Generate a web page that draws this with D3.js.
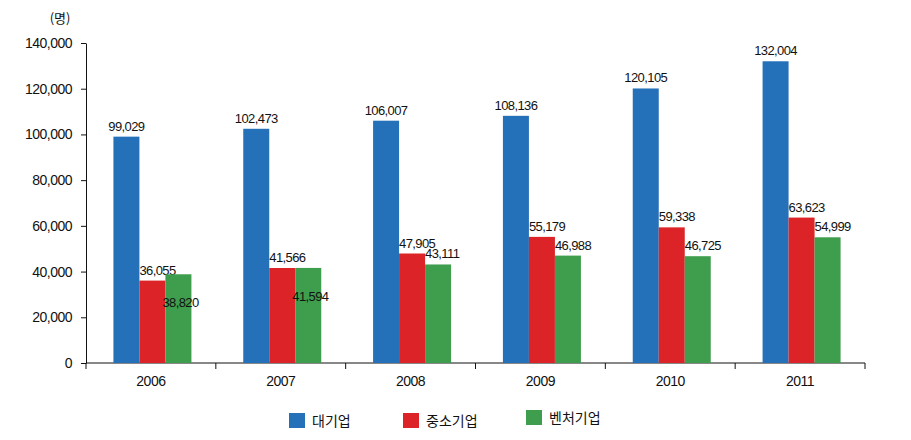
<!DOCTYPE html>
<html>
<head>
<meta charset="utf-8">
<script src="https://cdn.jsdelivr.net/npm/d3@7"></script>
<style>
  body { margin: 0; background: #fff; }
  text { font-family: "Liberation Sans", Arial, sans-serif; fill: #111; }
  .kr { font-family: "Noto Sans CJK KR", sans-serif; }
</style>
</head>
<body>
<svg width="911" height="440"></svg>
<script>
const years = ["2006", "2007", "2008", "2009", "2010", "2011"];
const seriesNames = ["대기업", "중소기업", "벤처기업"];
const large = [99029, 102473, 106007, 108136, 120105, 132004];
const small = [36055, 41566, 47905, 55179, 59338, 63623];
const venture = [38820, 41594, 43111, 46988, 46725, 54999];
const yTicks = [0, 20000, 40000, 60000, 80000, 100000, 120000, 140000];
const colors = ["#2470b9", "#dc2328", "#3f9e4d"];

const values = [large, small, venture];
const fmt = d3.format(",");

const svg = d3.select("svg");
const plotLeft = 86, plotRight = 865, plotTop = 43, plotBottom = 363;

const x = d3.scaleBand().domain(years).range([plotLeft, plotRight]);
const y = d3.scaleLinear().domain([0, 140000]).range([plotBottom, plotTop]);
const barW = 26;

// y axis
const yAxis = svg.append("g")
  .attr("transform", "translate(" + plotLeft + ",0)")
  .call(d3.axisLeft(y).tickValues(yTicks).tickFormat(fmt).tickSize(5).tickSizeOuter(0));
yAxis.select(".domain").attr("stroke", "#111");
yAxis.selectAll("line").attr("stroke", "#111");
yAxis.selectAll("text")
  .attr("x", -14)
  .style("font-size", "14px")
  .style("letter-spacing", "-0.5px");

// x axis: ticks on band boundaries
const xAxis = svg.append("g").attr("transform", "translate(0," + plotBottom + ")");
xAxis.append("line")
  .attr("x1", plotLeft).attr("x2", plotRight)
  .attr("stroke", "#111");
const edges = years.map((d) => x(d)).concat([plotRight]);
xAxis.selectAll(".tk").data(edges).join("line")
  .attr("x1", (d) => d).attr("x2", (d) => d)
  .attr("y1", 0).attr("y2", 6)
  .attr("stroke", "#111");
xAxis.selectAll(".yr").data(years).join("text")
  .attr("x", (d) => x(d) + x.bandwidth() / 2)
  .attr("y", 23)
  .attr("text-anchor", "middle")
  .style("font-size", "14px")
  .style("letter-spacing", "-0.5px")
  .text((d) => d);

// bars
const bars = svg.append("g");
values.forEach((vals, s) => {
  const bx = (i) => x(years[i]) + x.bandwidth() / 2 + 1.5 - 1.5 * barW + s * barW;
  bars.selectAll(".b" + s).data(vals).join("rect")
    .attr("x", (d, i) => bx(i))
    .attr("y", (d) => y(d))
    .attr("width", barW)
    .attr("height", (d) => plotBottom - y(d))
    .attr("fill", colors[s]);

  // green labels that would collide with the red one sit inside the bar
  bars.selectAll(".l" + s).data(vals).join("text")
    .attr("x", (d, i) => {
      if (s === 0) return bx(i) + barW / 2;
      if (s === 2 && Math.abs(d - small[i]) < 3500) return bx(i) - 3;
      return bx(i);
    })
    .attr("y", (d, i) => {
      if (s === 2 && Math.abs(d - small[i]) < 3500) return y(d) + 33;
      return y(d) - 6;
    })
    .attr("text-anchor", s === 0 ? "middle" : "start")
    .style("font-size", "13px")
    .style("letter-spacing", "-0.6px")
    .text((d) => fmt(d));
});

// unit
svg.append("text").attr("class", "kr")
  .attr("x", 60).attr("y", 23)
  .attr("text-anchor", "middle")
  .style("font-size", "13px")
  .text("(명)");

// legend
const legendX = [289, 403, 526];
const legendY = [413, 413, 410];
const lg = svg.append("g");
seriesNames.forEach((name, s) => {
  lg.append("rect")
    .attr("x", legendX[s]).attr("y", legendY[s])
    .attr("width", 16).attr("height", 15)
    .attr("fill", colors[s]);
  lg.append("text").attr("class", "kr")
    .attr("x", legendX[s] + 23).attr("y", legendY[s] + 13)
    .style("font-size", "14px")
    .text(name);
});
</script>
</body>
</html>
